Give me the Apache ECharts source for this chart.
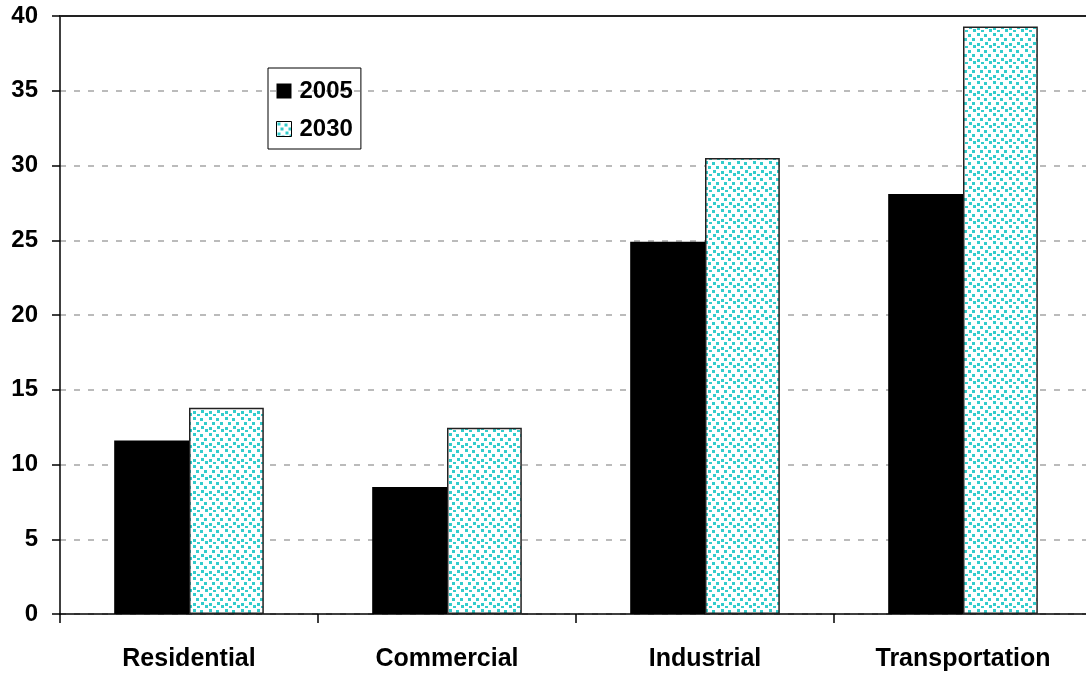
<!DOCTYPE html>
<html><head><meta charset="utf-8">
<script src="https://cdn.jsdelivr.net/npm/echarts@6/dist/echarts.min.js"></script>
<style>html,body{margin:0;padding:0;background:#fff;overflow:hidden}#c{width:1092px;height:675px}</style>
</head><body><div id="c"></div>
<script>
const categories = ['Residential', 'Commercial', 'Industrial', 'Transportation'];
const values2005 = [11.6, 8.5, 24.9, 28.1];
const values2030 = [13.8, 12.45, 30.5, 39.3];
const seriesNames = ['2005', '2030'];

// dotted teal texture
const pc = document.createElement('canvas');
pc.width = 16; pc.height = 16;
const g = pc.getContext('2d');
g.fillStyle = '#fff'; g.fillRect(0, 0, 16, 16);
g.fillStyle = '#33cccc';
const dots = [[1,1],[8,2],[12,6],[4,6],[9,10],[1,11],[13,13],[5,14]];
dots.forEach(([x,y]) => g.fillRect(x, y, 3, 3));
const pattern = {image: pc, repeat: 'repeat'};

const font = {fontFamily: 'Liberation Sans, Arial, sans-serif', fontWeight: 'bold', fontSize: 24, color: '#000'};
const chart = echarts.init(document.getElementById('c'));
chart.setOption({
  animation: false,
  grid: {left: 60, top: 16, right: 0, bottom: 61},
  legend: {
    left: 268, top: 68, orient: 'vertical', itemWidth: 15, itemHeight: 15, itemGap: 14,
    padding: [11, 8, 8, 8], borderColor: '#000', borderWidth: 1, icon: 'rect',
    textStyle: Object.assign({}, font, {padding: [0, 0, 0, 3]}),
    data: [{name: '2005', itemStyle: {color: '#000'}}, {name: '2030', itemStyle: {color: pattern, borderColor: '#000', borderWidth: 1}}]
  },
  xAxis: [{
    type: 'category', data: categories,
    axisLine: {lineStyle: {color: '#000', width: 1.5}},
    axisTick: {show: true, length: 9, lineStyle: {color: '#000', width: 1.5}},
    axisLabel: Object.assign({}, font, {fontSize: 25, margin: 33}),
  }, {
    type: 'category', position: 'top', data: categories,
    axisLine: {lineStyle: {color: '#222', width: 2}}, axisTick: {show: false}, axisLabel: {show: false}
  }],
  yAxis: {
    type: 'value', min: 0, max: 40, interval: 5,
    axisLine: {show: true, lineStyle: {color: '#000', width: 1.5}},
    axisTick: {show: true, length: 8, lineStyle: {color: '#000', width: 1.5}},
    axisLabel: Object.assign({}, font, {margin: 22}),
    splitLine: {show: true, lineStyle: {color: '#bbb', width: 2, type: [6, 8]}}
  },
  series: [
    {name: seriesNames[0], type: 'bar', data: values2005, barGap: '0%', barCategoryGap: '42%',
     itemStyle: {color: '#000'}},
    {name: seriesNames[1], type: 'bar', data: values2030,
     itemStyle: {color: pattern, borderColor: '#222', borderWidth: 1.5}}
  ]
});
</script></body></html>
